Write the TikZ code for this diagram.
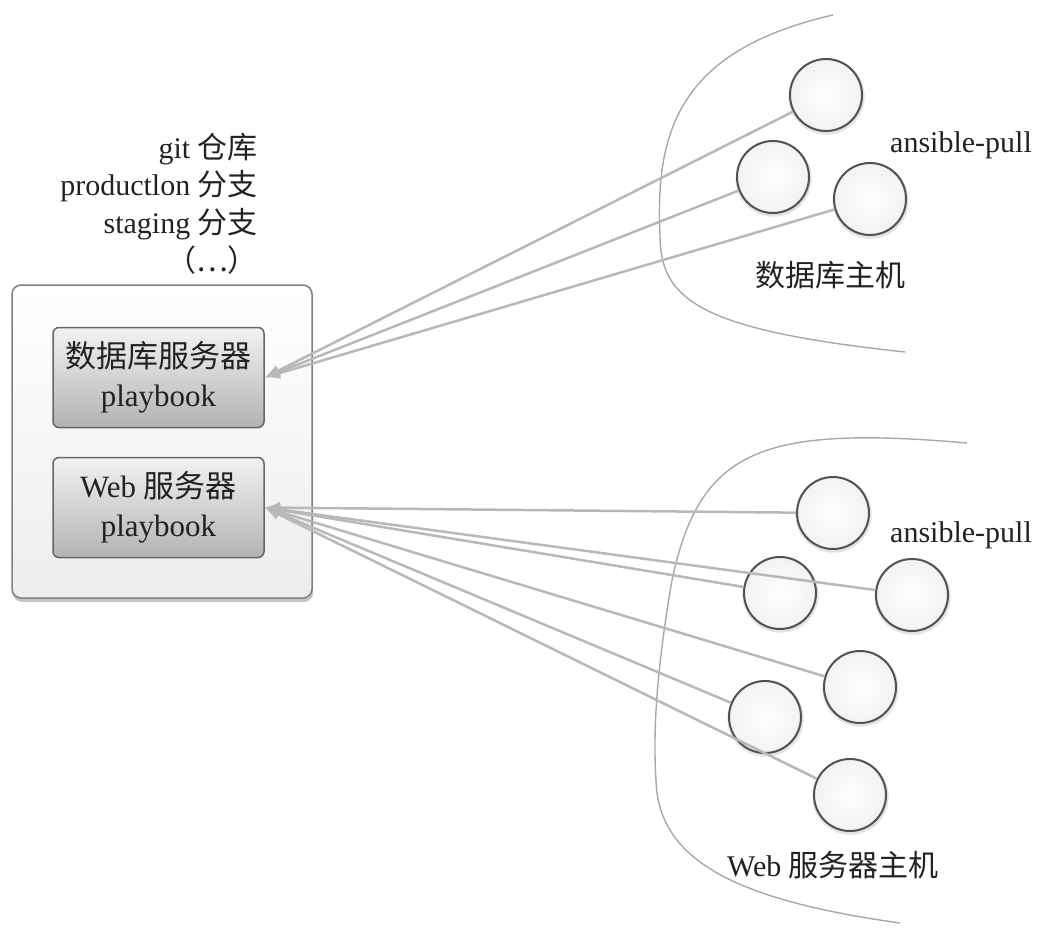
\documentclass[tikz,border=0pt]{standalone}
\usepackage{fontspec}
\setmainfont{Liberation Serif}
\newfontfamily\cjk{Noto Sans CJK SC}
\usetikzlibrary{shadows,arrows.meta}
\definecolor{txt}{HTML}{222222}
\definecolor{conncol}{HTML}{B8B8B8}
\definecolor{curvecol}{HTML}{A8A8A8}
\tikzset{
  outerbox/.style={rectangle, rounded corners=9pt, draw=black!50, line width=1.5pt,
    top color=white, bottom color=black!7, minimum width=300pt, minimum height=313pt,
    drop shadow={shadow xshift=1pt, shadow yshift=-4pt, opacity=0.45}},
  playbox/.style={rectangle, rounded corners=6pt, draw=black!60, line width=1.5pt,
    top color=black!5, bottom color=black!30, minimum width=211pt, minimum height=100pt,
    align=center, text=txt, font=\fontsize{31}{39}\selectfont},
  host/.style={circle, minimum size=72pt, draw=black!68, line width=2pt,
    inner color=white, outer color=black!5,
    drop shadow={shadow xshift=0.5pt, shadow yshift=-1.5pt, opacity=0.22, shadow scale=1.06}},
  lbl/.style={text=txt, font=\fontsize{30}{37.7}\selectfont, inner sep=0pt},
  conn/.style={draw=conncol, line width=2.5pt, -{Latex[length=15pt,width=12pt]}},
  boundary/.style={draw=curvecol, line width=1.4pt}
}
\begin{document}
\begin{tikzpicture}[x=1pt,y=-1pt]
\useasboundingbox (0,0) rectangle (1038,944);
% boundaries
\draw[boundary] (833,15) .. controls (680,50) and (655,130) .. (660,235)
  .. controls (660,300) and (700,330) .. (905,352);
\draw[boundary] (967,443) .. controls (760,425) and (700,450) .. (672,580)
  .. controls (660,650) and (652,720) .. (656,780)
  .. controls (658,860) and (735,900) .. (900,923);
% repository
\node[lbl, anchor=east, align=right] (repo) at (258,203.5)
  {git \cjk{仓库}\\productlon \cjk{分支}\\staging \cjk{分支}\\\cjk{（⋯）}};
\node[outerbox] (repobox) at (162,441.5) {};
\node[playbox] (db) at (158.5,377.5) {\cjk{数据库服务器}\\playbook};
\node[playbox] (wb) at (158.5,507.5) {Web \cjk{服务器}\\playbook};
% database hosts
\node[host] (d1) at (826,95) {};
\node[host] (d2) at (773,177) {};
\node[host] (d3) at (870,199) {};
\node[lbl] (dpull) at (961,145) {ansible-pull};
\node[lbl] (dname) at (830,275) {\cjk{数据库主机}};
% web hosts
\node[host] (w1) at (833,513) {};
\node[host] (w2) at (780,593) {};
\node[host] (w3) at (912,595) {};
\node[host] (w4) at (860,687) {};
\node[host] (w5) at (765,717) {};
\node[host] (w6) at (850,795) {};
\node[lbl] (wpull) at (961,535) {ansible-pull};
\node[lbl] (wname) at (833,865) {Web \cjk{服务器主机}};
% connectors
\foreach \h in {d1,d2,d3} \draw[conn] (\h) -- (db.east);
\foreach \h in {w1,w2,w3,w4,w5,w6} \draw[conn] (\h) -- (wb.east);
\end{tikzpicture}
\end{document}
